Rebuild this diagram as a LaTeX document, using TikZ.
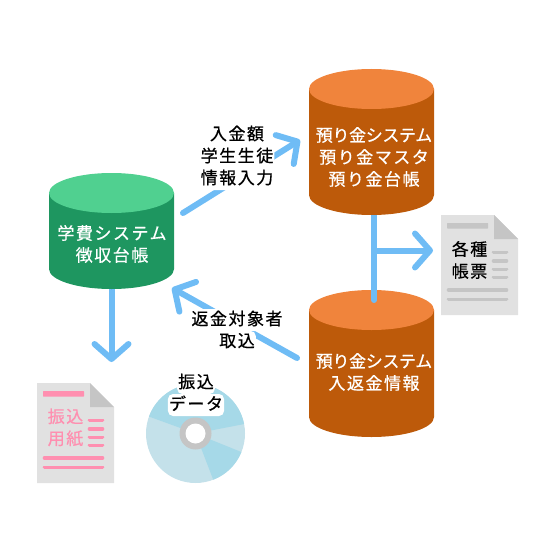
\documentclass[tikz,border=0pt]{standalone}
\usepackage{fontspec}
\setmainfont[LetterSpace=9,FakeBold=0.6]{Noto Sans CJK JP}
\newfontfamily\jptight[LetterSpace=-2,FakeBold=0.6]{Noto Sans CJK JP}
\usepackage{tikz}
\usetikzlibrary{arrows.meta, positioning, backgrounds}

\definecolor{flowblue}{HTML}{6FBCF5}
\definecolor{greentop}{HTML}{50D090}
\definecolor{greenbody}{HTML}{1E9660}
\definecolor{orangetop}{HTML}{F0843C}
\definecolor{orangebody}{HTML}{BD5A0A}
\definecolor{pagegrey}{HTML}{E1E1E1}
\definecolor{foldgrey}{HTML}{C5C5C5}
\definecolor{slippink}{HTML}{FF8FB0}
\definecolor{disclight}{HTML}{C4E1EA}
\definecolor{discdark}{HTML}{A6D9E8}

\tikzset{
    pics/dbcyl/.style n args={3}{code={
        \fill[#1] (-62.5,0) -- (-62.5,#3) arc (180:0:62.5 and 20) -- (62.5,0) -- cycle;
        \fill[#2] (0,0) ellipse (62.5 and 20);
    }},
    dbtext/.style={text=white, align=center, font=\fontsize{17}{22}\selectfont},
    flow/.style={draw=flowblue, line width=6pt, line cap=round,
                 -{Straight Barb[length=15pt, width=34pt, round]}},
    flowline/.style={draw=flowblue, line width=6pt, line cap=round},
    caption/.style={fill=white, rounded corners=5pt, inner xsep=1pt, inner ysep=2.5pt,
                    outer sep=0pt, text height=13.5pt, text depth=3.5pt,
                    font=\fontsize{17}{22}\selectfont},
    doctext/.style={align=center, inner sep=0pt, font=\fontsize{17}{22}\selectfont},
    pics/docpage/.style={code={
        \fill[pagegrey] (0,0) -- (53,0) -- (77,24) -- (77,100) -- (0,100) -- cycle;
        \fill[foldgrey] (53,0) -- (77,24) -- (53,24) -- cycle;
        \fill[#1, rounded corners=0.5pt] (6,8) rectangle (47,13.5);
        \foreach \y in {37.3, 46, 54.3, 62.3}
            \draw[#1, line width=3.6pt, line cap=round] (52.5,\y) -- (65.5,\y);
        \foreach \y in {75, 84.3}
            \draw[#1, line width=3.6pt, line cap=round] (7.5,\y) -- (65.5,\y);
    }}
}

\begin{document}
\begin{tikzpicture}[x=1pt, y=-1pt]
    \useasboundingbox (0,0) rectangle (540,540);

    \pic at (371.5,310) {dbcyl={orangebody}{orangetop}{107}};
    \pic at (111.5,193) {dbcyl={greenbody}{greentop}{76}};

    \coordinate (feesout) at (183,213);
    \coordinate (masterin) at (300,140);
    \coordinate (nyuout) at (297,358);
    \coordinate (feesin) at (172,288);
    \coordinate (slipin) at (111.5,362);
    \coordinate (branchtop) at (374,200);
    \coordinate (branchend) at (374,300);
    \coordinate (branchmid) at (374,250.5);
    \coordinate (reportin) at (433,250.5);

    % slips and disc
    \pic at (37,383) {docpage=slippink};
    \pic at (441,215) {docpage=foldgrey};

    \fill[disclight] (195.5,433.5) circle (49.5);
    \fill[discdark] (195.5,433.5) -- ++(-160:49.5) arc (-160:-11:49.5) -- cycle;
    \fill[discdark] (195.5,433.5) -- ++(22:49.5) arc (22:69:49.5) -- cycle;
    \fill[foldgrey] (195.5,433.5) circle (16);
    \fill[white] (195.5,433.5) circle (10);

    \draw[flowline] (branchtop) -- (branchend);
    \draw[flow] (branchmid) -- (reportin);
    \pic at (371.5,89) {dbcyl={orangebody}{orangetop}{106}};

    \node[dbtext] (feestext) at (112,244) {学費システム\\徴収台帳};
    \node[dbtext] (mastertext) at (374,157) {{\jptight 預り金システム}\\預り金マスタ\\預り金台帳};
    \node[dbtext] (nyutext) at (374,372) {{\jptight 預り金システム}\\入返金情報};

    \begin{pgfonlayer}{background}
        \draw[flow] (feestext.center -| slipin) -- (slipin);
    \end{pgfonlayer}

    \draw[flow] (feesout) -- (masterin);
    \draw[flow] (nyuout) -- (feesin);

    \node[caption] (paya) at (237,135) {入金額};
    \node[caption, below=0pt of paya] (payb) {学生生徒};
    \node[caption, below=0pt of payb] (payc) {情報入力};

    \node[caption] (backa) at (237,320) {返金対象者};
    \node[caption, below=0pt of backa] (backb) {取込};

    \node[caption] (disca) at (196,383) {振込};
    \node[caption, below=0pt of disca] (discb) {データ};

    \node[doctext, text=slippink] (sliptext) at (65.5,427.5) {振込\\用紙};
    \node[doctext] (reporttext) at (469.5,260) {各種\\帳票};
\end{tikzpicture}
\end{document}
